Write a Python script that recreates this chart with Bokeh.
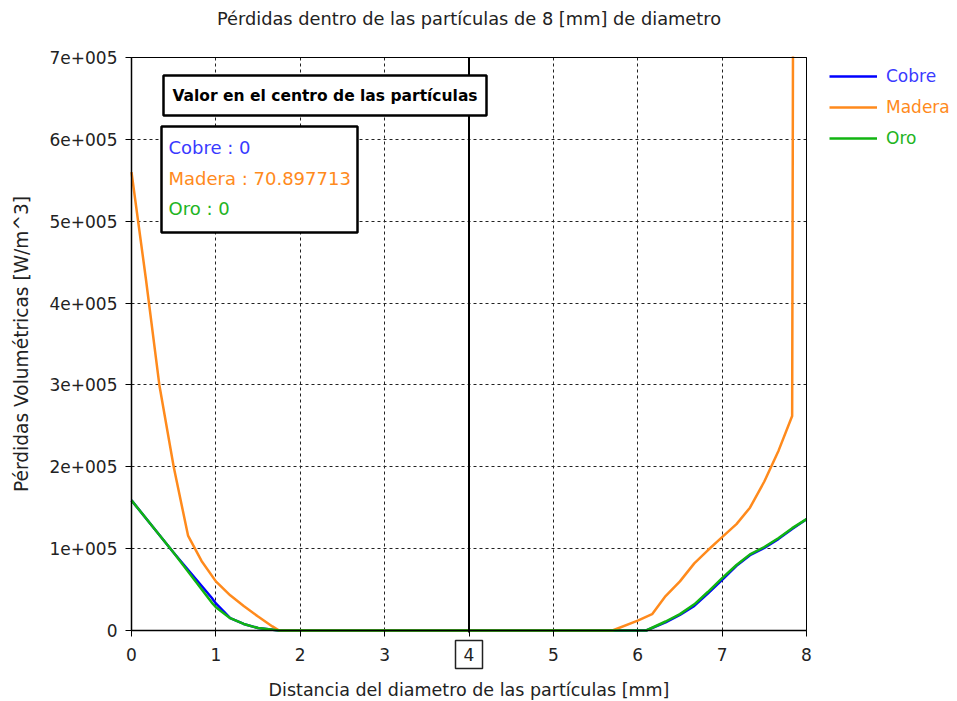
from bokeh.plotting import figure
from bokeh.models import (Range1d, FixedTicker, BoxAnnotation, Label, Legend, LegendItem, LinearAxis)
from bokeh.embed import file_html
from bokeh.resources import INLINE

# ---------------- data ----------------
title_text = "Pérdidas dentro de las partículas de 8 [mm] de diametro"
x_label = "Distancia del diametro de las partículas [mm]"
y_label = "Pérdidas Volumétricas [W/m^3]"

series_names = ["Cobre", "Madera", "Oro"]

cobre_x = [0, 0.5, 0.95, 1.0, 1.17, 1.33, 1.5, 1.75, 6.1, 6.33, 6.5, 6.67, 6.83, 7.0, 7.17, 7.33, 7.5, 7.67, 7.83, 8.0]
cobre_y = [159000, 95000, 40000, 33000, 15000, 8000, 3000, 0, 0, 10000, 19000, 30000, 45000, 62000, 79000, 92000, 101000, 112000, 124000, 136000]

# last Madera value lies above the top of the chart (off scale)
madera_x = [0, 0.17, 0.33, 0.5, 0.67, 0.83, 1.0, 1.17, 1.33, 1.5, 1.67, 1.75, 5.7, 6.0, 6.17, 6.33, 6.5, 6.67, 6.83, 7.0, 7.17, 7.33, 7.5, 7.67, 7.83, 7.84]
madera_y = [560000, 430000, 300000, 200000, 116000, 85000, 60000, 43000, 30000, 17000, 5000, 0, 0, 12000, 20000, 42000, 60000, 82000, 98000, 114000, 130000, 150000, 182000, 220000, 262000, 720000]

oro_x = [0, 0.5, 0.96, 1.0, 1.17, 1.33, 1.5, 1.75, 6.1, 6.33, 6.5, 6.67, 6.83, 7.0, 7.17, 7.33, 7.5, 7.67, 7.83, 8.0]
oro_y = [159000, 95000, 33000, 28500, 15000, 8000, 3000, 0, 0, 11000, 20000, 32000, 47000, 64000, 80000, 93000, 102000, 113000, 125000, 136000]

x_ticks = [0, 1, 2, 3, 4, 5, 6, 7, 8]
y_ticks = [0, 100000, 200000, 300000, 400000, 500000, 600000, 700000]
y_tick_labels = ["0", "1e+005", "2e+005", "3e+005", "4e+005", "5e+005", "6e+005", "7e+005"]

center_x = 4
box_title = "Valor en el centro de las partículas"
center_values = ["Cobre : 0", "Madera : 70.897713", "Oro : 0"]

# ---------------- layout / styles ----------------
FONT = "DejaVu Sans"
line_colors = ["#0000ff", "#ff8a1c", "#11b411"]
text_colors = ["#3a3aff", "#ff8a1c", "#22b422"]

x_min, x_max = x_ticks[0], x_ticks[-1]
y_min, y_max = y_ticks[0], y_ticks[-1]

W, H = 957, 701                    # canvas
FRAME_L, FRAME_T = 131, 57         # where the data area starts on the canvas
PLOT_W, PLOT_H = 675, 573          # pixel size of the data area
px_x = PLOT_W / (x_max - x_min)
px_y = PLOT_H / (y_max - y_min)


def xpix(dx):  # pixel distance -> data distance (x)
    return dx / px_x


def ypix(dy):  # pixel distance -> data distance (y)
    return dy / px_y


xr0, xr1 = x_min - xpix(FRAME_L), x_max + xpix(W - FRAME_L - PLOT_W)
yr0, yr1 = y_min - ypix(H - FRAME_T - PLOT_H), y_max + ypix(FRAME_T)

p = figure(frame_width=W, frame_height=H, title=None,
           output_backend="svg", toolbar_location=None,
           x_range=Range1d(xr0, xr1), y_range=Range1d(yr0, yr1),
           min_border=0)

p.background_fill_color = "white"
p.border_fill_color = "white"
p.outline_line_color = None

for ax in (p.xaxis[0], p.yaxis[0]):
    ax.axis_line_color = "black"
    ax.axis_line_width = 1.5
    ax.major_tick_line_color = "black"
    ax.major_tick_out = 6
    ax.major_tick_in = 0
    ax.minor_tick_line_color = None
    ax.major_label_text_font = FONT
    ax.major_label_text_font_size = "17px"
    ax.major_label_text_color = "#222222"
    ax.axis_label_text_font = FONT
    ax.axis_label_text_font_style = "normal"
    ax.axis_label_text_color = "#222222"

xa = p.xaxis[0]
xa.fixed_location = y_min
xa.bounds = (x_min, x_max)
xa.ticker = FixedTicker(ticks=x_ticks)
xa.major_label_overrides = {center_x: " "}
xa.axis_label = x_label
xa.axis_label_text_font_size = "17.5px"
xa.major_label_standoff = 8
xa.axis_label_standoff = 12

ya = p.yaxis[0]
ya.fixed_location = x_min
ya.bounds = (y_min, y_max)
ya.ticker = FixedTicker(ticks=y_ticks)
ya.major_label_overrides = {t: l for t, l in zip(y_ticks, y_tick_labels)}
ya.axis_label = y_label
ya.axis_label_text_font_size = "18.6px"
ya.major_label_standoff = 8
ya.axis_label_standoff = 15

# right and top frame borders
p.add_layout(LinearAxis(fixed_location=x_max, bounds=(y_min, y_max), ticker=FixedTicker(ticks=[]),
                        axis_line_color="black", axis_line_width=1,
                        major_tick_line_color=None, minor_tick_line_color=None), "right")
p.add_layout(LinearAxis(fixed_location=y_max, bounds=(x_min, x_max), ticker=FixedTicker(ticks=[]),
                        axis_line_color="black", axis_line_width=1,
                        major_tick_line_color=None, minor_tick_line_color=None), "above")

xg, yg = p.xgrid[0], p.ygrid[0]
for g in (xg, yg):
    g.grid_line_color = "#222222"
    g.grid_line_dash = "3 3"
    g.grid_line_width = 1
xg.bounds = (x_min, x_max)
yg.bounds = (y_min, y_max)
if "cross_bounds" in xg.properties():
    xg.cross_bounds = (y_min, y_max)
    yg.cross_bounds = (x_min, x_max)

# white masks outside the data area, drawn above the grid and below the data
bx0, bx1 = xr0 - xpix(50), xr1 + xpix(50)
by0, by1 = yr0 - ypix(50), yr1 + ypix(50)
p.quad(left=[x_max + xpix(1), bx0, bx0, bx0], right=[bx1, x_min - xpix(1), bx1, bx1],
       bottom=[by0, by0, by0, y_max + ypix(1)], top=[by1, by1, y_min - ypix(1), by1],
       fill_color="white", line_color=None)

# series lines
renderers = []
for xs, ys, c in zip([cobre_x, madera_x, oro_x], [cobre_y, madera_y, oro_y], line_colors):
    r = p.line(xs, ys, line_color=c, line_width=2.5)
    renderers.append(r)

# centre marker line
p.segment(x0=[center_x], y0=[y_min - ypix(2)], x1=[center_x], y1=[y_max], line_color="black", line_width=2)

# hide the part of the lines that runs above the data area
p.quad(left=[x_min + xpix(1)], right=[x_max - xpix(1)], bottom=[y_max + ypix(1)], top=[by1],
       fill_color="white", line_color=None)

# title
p.add_layout(Label(x=(x_min + x_max) / 2, y=y_max + ypix(39), text=title_text, text_align="center",
                   text_baseline="middle", text_font=FONT, text_font_size="17.8px", text_color="#222222"))

# boxed tick label at centre
p.add_layout(BoxAnnotation(left=center_x - xpix(13.5), right=center_x + xpix(13.5),
                           top=y_min - ypix(10), bottom=y_min - ypix(38),
                           fill_color="white", fill_alpha=1, line_color="#222222", line_alpha=1,
                           line_width=1.5, level="annotation"))
p.add_layout(Label(x=center_x, y=y_min - ypix(24), text=str(center_x),
                   text_align="center", text_baseline="middle", text_font=FONT, text_font_size="17px",
                   text_color="#222222"))

# annotation boxes
p.add_layout(BoxAnnotation(left=xpix(32), right=xpix(355), top=y_max - ypix(18), bottom=y_max - ypix(58),
                           fill_color="white", fill_alpha=1, line_color="black", line_alpha=1, line_width=2.5))
p.add_layout(Label(x=xpix(32 + 323 / 2), y=y_max - ypix(38), text=box_title, text_align="center",
                   text_baseline="middle", text_font=FONT, text_font_size="15.5px", text_font_style="bold",
                   text_color="black"))

p.add_layout(BoxAnnotation(left=xpix(30), right=xpix(226), top=y_max - ypix(69), bottom=y_max - ypix(175),
                           fill_color="white", fill_alpha=1, line_color="black", line_alpha=1, line_width=2.5))
for i, (txt, c) in enumerate(zip(center_values, text_colors)):
    p.add_layout(Label(x=xpix(37), y=y_max - ypix(90 + i * 30.5), text=txt, text_align="left",
                       text_baseline="middle", text_font=FONT, text_font_size="18px", text_color=c))

# legend: one per series so each label keeps its own colour
for i, (name, r, c) in enumerate(zip(series_names, renderers, text_colors)):
    lg = Legend(items=[LegendItem(label=name, renderers=[r])],
                location=(829, H - 76 - i * 31 - 10),
                orientation="vertical", label_text_font=FONT, label_text_font_size="17px",
                label_text_color=c, glyph_width=48, glyph_height=20, label_height=20,
                label_standoff=9, padding=0, margin=0, spacing=0,
                border_line_color=None, background_fill_alpha=0)
    p.add_layout(lg, "center")

open("out.html", "w").write(file_html(p, INLINE))
